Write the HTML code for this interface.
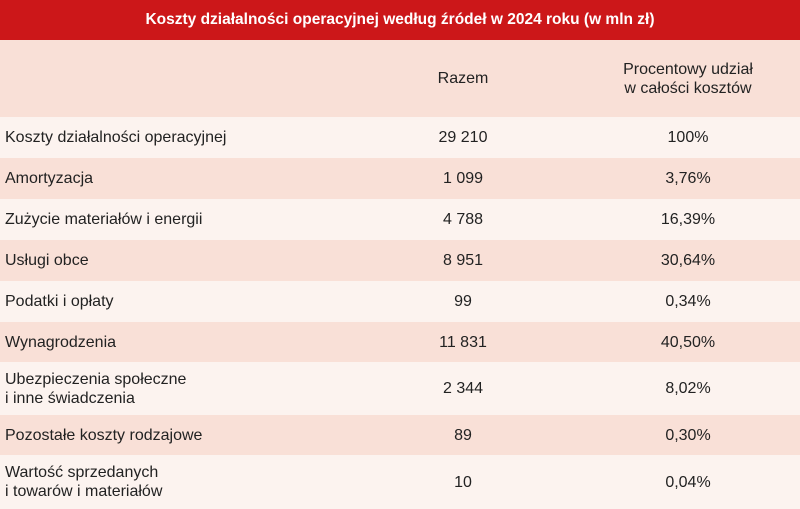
<!DOCTYPE html>
<html><head><meta charset="utf-8"><style>
body{margin:0;width:800px;height:509px;overflow:hidden;font-family:"Liberation Sans",sans-serif;color:#222;background:#fcf3ef}
.title{height:40px;background:#cc1719;color:#fff;font-weight:bold;font-size:15.5px;text-align:center;line-height:40px}
.row{position:relative;background:#fcf3ef}
.row.p{background:#f9e0d7}
.c{position:absolute;top:0;bottom:0;display:flex;align-items:center;font-size:16px;line-height:19px}
.c1{left:5px}
.c2{left:363px;width:200px;justify-content:center;text-align:center}
.c3{left:588px;width:200px;justify-content:center;text-align:center}
</style></head><body>
<div class="title">Koszty działalności operacyjnej według źródeł w 2024 roku (w mln zł)</div>
<div class="row p" style="height:77px">
<div class="c c2">Razem</div>
<div class="c c3">Procentowy udział<br>w całości kosztów</div>
</div>
<div id="body"></div>
<script>
const labels=["Koszty działalności operacyjnej","Amortyzacja","Zużycie materiałów i energii","Usługi obce","Podatki i opłaty","Wynagrodzenia","Ubezpieczenia społeczne<br>i inne świadczenia","Pozostałe koszty rodzajowe","Wartość sprzedanych<br>i towarów i materiałów"];
const totals=["29 210","1 099","4 788","8 951","99","11 831","2 344","89","10"];
const shares=["100%","3,76%","16,39%","30,64%","0,34%","40,50%","8,02%","0,30%","0,04%"];
const heights=[41,41,41,41,41,40,53,40,54];
const b=document.getElementById('body');
labels.forEach((l,i)=>{
const r=document.createElement('div');
r.className='row'+(i%2?' p':'');
r.style.height=heights[i]+'px';


r.innerHTML='<div class="c c1">'+l+'</div><div class="c c2">'+totals[i]+'</div><div class="c c3">'+shares[i]+'</div>';
b.appendChild(r);
});
</script>
</body></html>
